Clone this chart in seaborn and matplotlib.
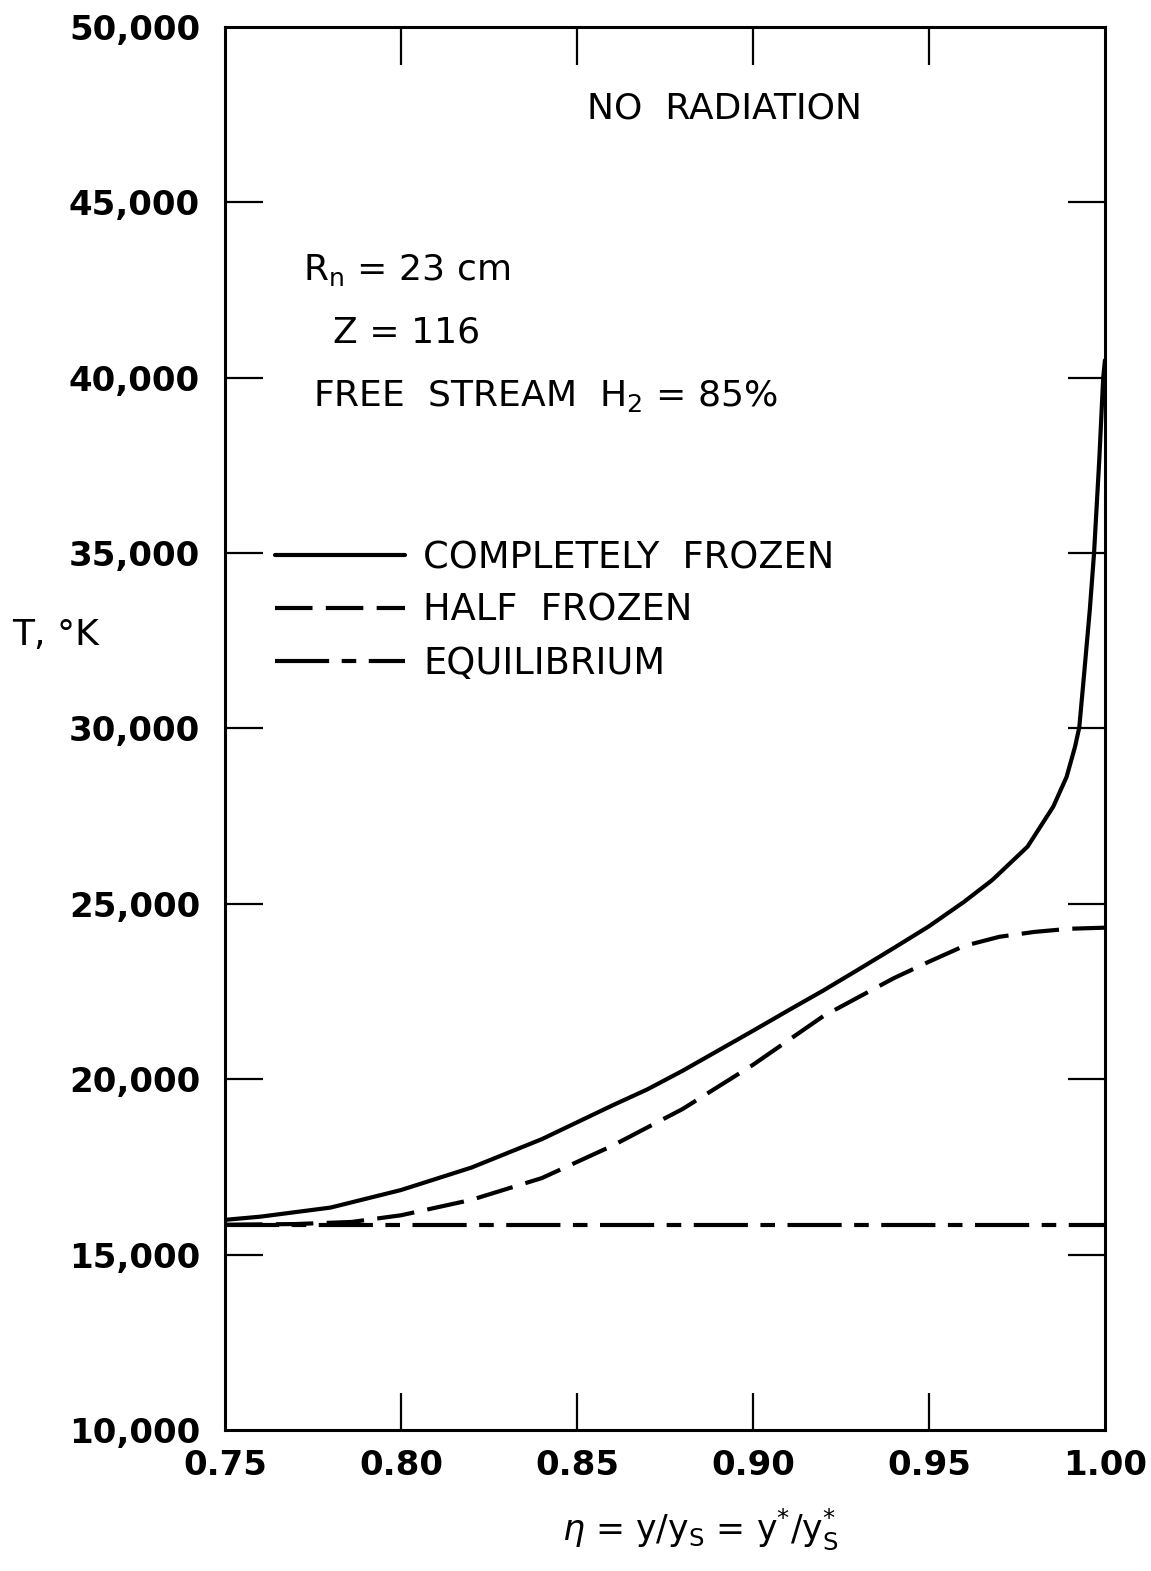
import numpy as np
import pandas as pd
import matplotlib
matplotlib.use("Agg")
import matplotlib.pyplot as plt
import seaborn as sns

# Shock-layer temperature profiles, T (deg K) against eta = y/y_s
eta_frozen = [0.75, 0.76, 0.78, 0.80, 0.82, 0.84, 0.86, 0.87, 0.88, 0.89,
              0.90, 0.91, 0.92, 0.93, 0.94, 0.95, 0.96, 0.968, 0.978,
              0.9853, 0.9891, 0.9915, 0.9927, 0.9938, 0.9957, 0.9969,
              0.9984, 0.9995, 1.00]
t_frozen = [15990, 16080, 16340, 16840, 17480, 18290, 19250, 19710, 20240,
            20810, 21380, 21960, 22530, 23130, 23740, 24360, 25060, 25680,
            26630, 27770, 28620, 29480, 30030, 31240, 33390, 35000, 37690,
            40000, 40500]

eta_half = [0.75, 0.77, 0.786, 0.80, 0.82, 0.84, 0.86, 0.88, 0.90, 0.92,
            0.94, 0.95, 0.96, 0.97, 0.98, 0.99, 1.00]
t_half = [15850, 15870, 15930, 16120, 16560, 17180, 18100, 19150, 20410,
          21800, 22880, 23350, 23800, 24060, 24200, 24290, 24320]

eta_equil = [0.75, 0.80, 0.85, 0.90, 0.95, 1.00]
t_equil = [15850, 15850, 15850, 15850, 15850, 15850]

series_names = ["COMPLETELY  FROZEN", "HALF  FROZEN", "EQUILIBRIUM"]

x_ticks = [0.75, 0.80, 0.85, 0.90, 0.95, 1.00]
y_ticks = [10000, 15000, 20000, 25000, 30000, 35000, 40000, 45000, 50000]

sns.set_style("ticks")
plt.rcParams["font.family"] = ["DejaVu Sans"]
plt.rcParams.update({"text.color": "black", "axes.labelcolor": "black",
                     "xtick.color": "black", "ytick.color": "black"})

frames = []
for name, xs, ts in zip(series_names, [eta_frozen, eta_half, eta_equil],
                        [t_frozen, t_half, t_equil]):
    frames.append(pd.DataFrame({"eta": xs, "T": ts, "case": name}))
df = pd.concat(frames, ignore_index=True)

fig = plt.figure(figsize=(11.51, 15.71), dpi=100)
ax = fig.add_axes([0.1955, 0.0898, 0.7645, 0.893])

dash_styles = {
    series_names[0]: "",
    series_names[1]: (9, 3.2),
    series_names[2]: (13, 3, 3.5, 3),
}
sns.lineplot(data=df, x="eta", y="T", style="case", dashes=dash_styles,
             color="black", linewidth=3.0, estimator=None, sort=True,
             legend=False, ax=ax)

ax.set_xlim(0.75, 1.00)
ax.set_ylim(10000, 50000)
ax.set_xticks(x_ticks)
ax.set_yticks(y_ticks)
ax.set_xticklabels([f"{v:.2f}" for v in x_ticks])
ax.set_yticklabels([f"{v:,}" for v in y_ticks])
ax.tick_params(axis="both", which="both", direction="in", length=27,
               width=1.6, top=True, right=True, labelsize=24.5)
ax.tick_params(axis="y", pad=18)
ax.tick_params(axis="x", pad=14)
for lab in ax.get_xticklabels() + ax.get_yticklabels():
    lab.set_fontweight("bold")
for sp in ax.spines.values():
    sp.set_linewidth(2.2)
    sp.set_color("black")
    sp.set_visible(True)

# hide the end ticks that sit on the frame corners
for tl in (ax.xaxis.get_major_ticks()[0], ax.xaxis.get_major_ticks()[-1]):
    tl.tick1line.set_visible(False)
    tl.tick2line.set_visible(False)
for tl in (ax.yaxis.get_major_ticks()[0], ax.yaxis.get_major_ticks()[-1]):
    tl.tick1line.set_visible(False)
    tl.tick2line.set_visible(False)

ax.set_ylabel("T, °K", rotation=0, fontsize=26, ha="center", va="center")
ax.yaxis.set_label_coords(-0.193, 0.5666)
ax.set_xlabel(r"$\eta$ = y/y$_\mathregular{S}$ = y$^\mathregular{*}$/y$^\mathregular{*}_\mathregular{S}$",
              fontsize=25, va="center")
ax.xaxis.set_label_coords(0.54, -0.0705)

ax.text(0.8918, 47690, "NO  RADIATION", fontsize=26, ha="center", va="center")
ax.text(0.7722, 43070, r"R$_\mathregular{n}$ = 23 cm", fontsize=26,
        ha="left", va="center")
ax.text(0.7807, 41300, "Z = 116", fontsize=26, ha="left", va="center")
ax.text(0.775, 39480, r"FREE  STREAM  H$_\mathregular{2}$ = 85%", fontsize=26,
        ha="left", va="center")

handles = [
    plt.Line2D([], [], color="black", lw=3.0, linestyle="-"),
    plt.Line2D([], [], color="black", lw=3.0, dashes=dash_styles[series_names[1]]),
    plt.Line2D([], [], color="black", lw=3.0, dashes=dash_styles[series_names[2]]),
]
ax.legend(handles, series_names, loc="upper left",
          bbox_to_anchor=(0.0568, 0.6350), frameon=False, fontsize=26.5,
          handlelength=3.53, handletextpad=0.49, labelspacing=0.43,
          borderpad=0.0, borderaxespad=0.0)

fig.savefig("out.png", dpi=100, facecolor="white")
